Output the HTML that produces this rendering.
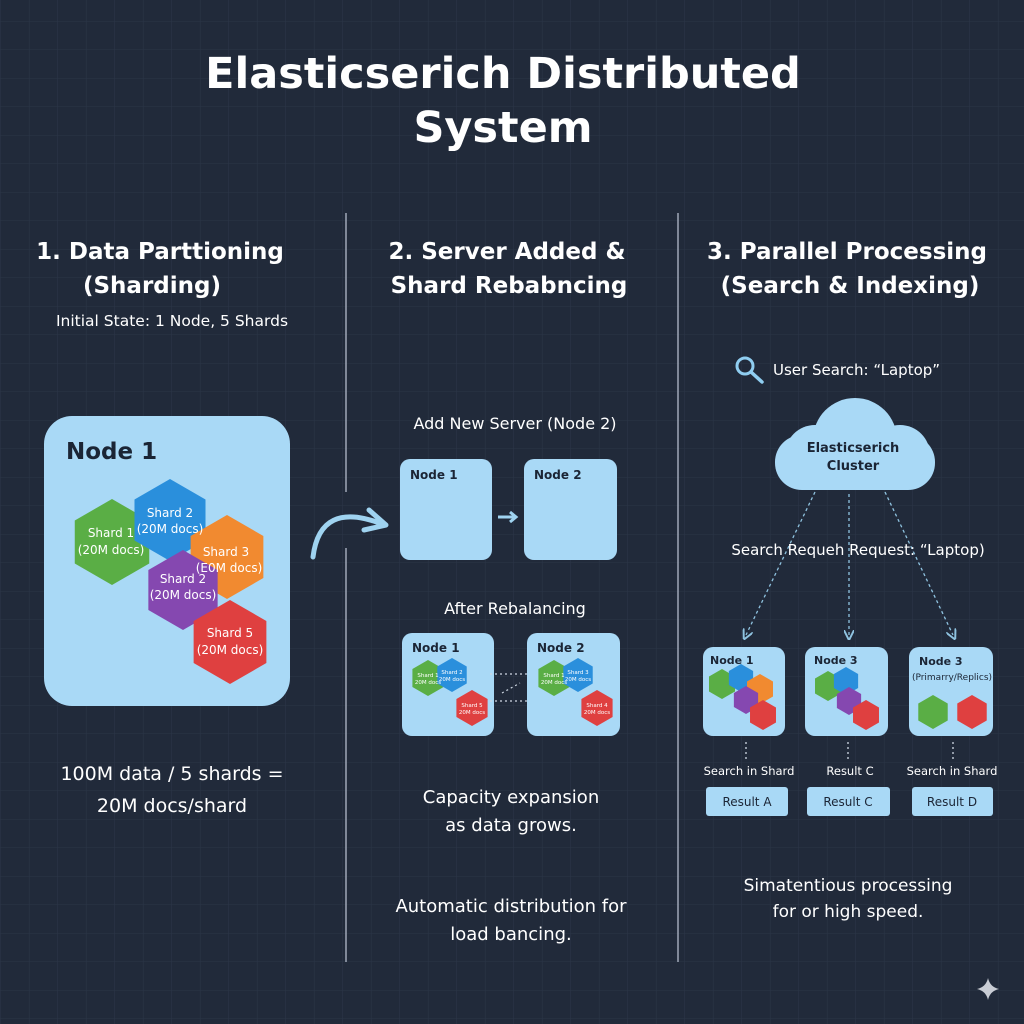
<!DOCTYPE html>
<html><head><meta charset="utf-8"><style>
html,body{margin:0;padding:0;background:#212a3a;}
svg{display:block}
text{font-family:"DejaVu Sans","Liberation Sans",sans-serif;}
</style></head><body>
<svg width="1024" height="1024" viewBox="0 0 1024 1024" xmlns="http://www.w3.org/2000/svg">
<defs>
<pattern id="g" width="28.5" height="28.5" patternUnits="userSpaceOnUse" x="1" y="-7">
<path d="M28.5 0V28.5M0 28.5H28.5" stroke="#2b3547" stroke-width="1.1" fill="none"/>
</pattern>
<polygon id="hx" points="0,-1 0.866,-0.5 0.866,0.5 0,1 -0.866,0.5 -0.866,-0.5"/>
<marker id="ah" markerWidth="8" markerHeight="8" refX="4" refY="4" orient="auto"><path d="M0,0 L8,4 L0,8" fill="none" stroke="#8fc3e0" stroke-width="1.5"/></marker>
</defs>
<rect width="1024" height="1024" fill="#212a3a"/>
<rect width="1024" height="1024" fill="url(#g)"/>

<text x="503" y="88" text-anchor="middle" fill="#fff" font-size="43" font-weight="bold">Elasticserich Distributed</text>
<text x="503" y="142" text-anchor="middle" fill="#fff" font-size="43" font-weight="bold">System</text>

<line x1="346" y1="213" x2="346" y2="492" stroke="#a0a8b8" stroke-width="1.5"/>
<line x1="346" y1="548" x2="346" y2="962" stroke="#a0a8b8" stroke-width="1.5"/>
<line x1="678" y1="213" x2="678" y2="962" stroke="#a0a8b8" stroke-width="1.5"/>

<g fill="#fff" font-size="23" font-weight="bold" text-anchor="middle">
<text x="160" y="259">1. Data Parttioning</text>
<text x="152" y="293">(Sharding)</text>
<text x="507" y="259">2. Server Added &amp;</text>
<text x="509" y="293">Shard Rebabncing</text>
<text x="847" y="259">3. Parallel Processing</text>
<text x="850" y="293">(Search &amp; Indexing)</text>
</g>
<text x="172" y="326" text-anchor="middle" fill="#fff" font-size="15.5">Initial State: 1 Node, 5 Shards</text>

<rect x="44" y="416" width="246" height="290" rx="28" fill="#a9d9f6"/>
<text x="66" y="459" fill="#1b2535" font-size="23" font-weight="bold">Node 1</text>
<use href="#hx" transform="translate(112,542) scale(43)" fill="#5aae45"/>
<use href="#hx" transform="translate(170,520) scale(41)" fill="#2a8fdc"/>
<use href="#hx" transform="translate(227,557) scale(42)" fill="#f18a30"/>
<use href="#hx" transform="translate(183,590) scale(40)" fill="#8548b0"/>
<use href="#hx" transform="translate(230,642) scale(42)" fill="#df4040"/>
<g fill="#fff" font-size="12" text-anchor="middle">
<text x="111" y="537">Shard 1</text><text x="111" y="554">(20M docs)</text>
<text x="170" y="517">Shard 2</text><text x="170" y="533">(20M docs)</text>
<text x="226" y="556">Shard 3</text><text x="229" y="572">(E0M docs)</text>
<text x="183" y="583">Shard 2</text><text x="183" y="599">(20M docs)</text>
<text x="230" y="637">Shard 5</text><text x="230" y="654">(20M docs)</text>
</g>
<text x="172" y="780" text-anchor="middle" fill="#fff" font-size="19">100M data / 5 shards =</text>
<text x="172" y="812" text-anchor="middle" fill="#fff" font-size="19">20M docs/shard</text>

<path d="M313,557 Q320,500 382,524" fill="none" stroke="#9fd3f0" stroke-width="5" stroke-linecap="round"/>
<path d="M369,510 L386,525 L364,530" fill="none" stroke="#9fd3f0" stroke-width="5" stroke-linecap="round" stroke-linejoin="round"/>

<text x="515" y="429" text-anchor="middle" fill="#fff" font-size="16">Add New Server (Node 2)</text>
<rect x="400" y="459" width="92" height="101" rx="10" fill="#a9d9f6"/>
<rect x="524" y="459" width="93" height="101" rx="10" fill="#a9d9f6"/>
<text x="410" y="479" fill="#1b2535" font-size="12" font-weight="bold">Node 1</text>
<text x="534" y="479" fill="#1b2535" font-size="12" font-weight="bold">Node 2</text>
<path d="M498,517 H515 M510,512 L516,517 L510,522" stroke="#9fd3f0" stroke-width="3" fill="none"/>
<text x="515" y="614" text-anchor="middle" fill="#fff" font-size="16">After Rebalancing</text>
<rect x="402" y="633" width="92" height="103" rx="10" fill="#a9d9f6"/>
<rect x="527" y="633" width="93" height="103" rx="10" fill="#a9d9f6"/>
<text x="412" y="652" fill="#1b2535" font-size="12" font-weight="bold">Node 1</text>
<text x="537" y="652" fill="#1b2535" font-size="12" font-weight="bold">Node 2</text>
<use href="#hx" transform="translate(428,678) scale(18)" fill="#5aae45"/>
<use href="#hx" transform="translate(452,675) scale(17)" fill="#2a8fdc"/>
<use href="#hx" transform="translate(472,708) scale(18)" fill="#df4040"/>
<use href="#hx" transform="translate(554,678) scale(18)" fill="#5aae45"/>
<use href="#hx" transform="translate(578,675) scale(17)" fill="#2a8fdc"/>
<use href="#hx" transform="translate(597,708) scale(18)" fill="#df4040"/>
<g fill="#fff" font-size="5.5" text-anchor="middle">
<text x="428" y="677">Shard 1</text><text x="428" y="684">20M docs</text>
<text x="452" y="674">Shard 2</text><text x="452" y="681">20M docs</text>
<text x="472" y="707">Shard 5</text><text x="472" y="714">20M docs</text>
<text x="554" y="677">Shard 1</text><text x="554" y="684">20M docs</text>
<text x="578" y="674">Shard 3</text><text x="578" y="681">20M docs</text>
<text x="597" y="707">Shard 4</text><text x="597" y="714">20M docs</text>
</g>
<path d="M490,674 H528 M490,701 H528" stroke="#cfd8e3" stroke-width="1.2" stroke-dasharray="2,3"/>
<path d="M502,693 L520,683" stroke="#cfd8e3" stroke-width="1.2" stroke-dasharray="2,3"/>
<text x="511" y="803" text-anchor="middle" fill="#fff" font-size="18">Capacity expansion</text>
<text x="511" y="831" text-anchor="middle" fill="#fff" font-size="18">as data grows.</text>
<text x="511" y="912" text-anchor="middle" fill="#fff" font-size="18">Automatic distribution for</text>
<text x="511" y="940" text-anchor="middle" fill="#fff" font-size="18">load bancing.</text>

<circle cx="745" cy="366" r="8" fill="none" stroke="#8fcdf0" stroke-width="3"/>
<line x1="751" y1="372" x2="762" y2="382" stroke="#8fcdf0" stroke-width="3.5" stroke-linecap="round"/>
<text x="773" y="375" fill="#fff" font-size="15">User Search: “Laptop”</text>
<g fill="#a9d9f6">
<rect x="775" y="435" width="160" height="55" rx="27"/>
<circle cx="855" cy="440" r="42"/>
<circle cx="815" cy="455" r="30"/>
<circle cx="900" cy="455" r="30"/>
</g>
<text x="853" y="452" text-anchor="middle" fill="#1b2535" font-size="13" font-weight="bold">Elasticserich</text>
<text x="853" y="470" text-anchor="middle" fill="#1b2535" font-size="13" font-weight="bold">Cluster</text>
<g stroke="#8fc3e0" stroke-width="1.3" stroke-dasharray="3,3" fill="none" marker-end="url(#ah)">
<path d="M815,492 L746,635"/>
<path d="M849,494 L849,635"/>
<path d="M885,492 L953,635"/>
</g>
<text x="858" y="555" text-anchor="middle" fill="#fff" font-size="15">Search Requeh Request: “Laptop)</text>

<rect x="703" y="647" width="82" height="89" rx="10" fill="#a9d9f6"/>
<rect x="805" y="647" width="83" height="89" rx="10" fill="#a9d9f6"/>
<rect x="909" y="647" width="84" height="89" rx="10" fill="#a9d9f6"/>
<text x="710" y="664" fill="#1b2535" font-size="11" font-weight="bold">Node 1</text>
<text x="814" y="664" fill="#1b2535" font-size="11" font-weight="bold">Node 3</text>
<text x="919" y="665" fill="#1b2535" font-size="11" font-weight="bold">Node 3</text>
<text x="952" y="680" text-anchor="middle" fill="#1b2535" font-size="9">(Primarry/Replics)</text>
<use href="#hx" transform="translate(722,684) scale(15)" fill="#5aae45"/>
<use href="#hx" transform="translate(741,678) scale(14)" fill="#2a8fdc"/>
<use href="#hx" transform="translate(760,689) scale(15)" fill="#f18a30"/>
<use href="#hx" transform="translate(746,700) scale(14)" fill="#8548b0"/>
<use href="#hx" transform="translate(763,715) scale(15)" fill="#df4040"/>
<use href="#hx" transform="translate(828,686) scale(15)" fill="#5aae45"/>
<use href="#hx" transform="translate(846,681) scale(14)" fill="#2a8fdc"/>
<use href="#hx" transform="translate(849,701) scale(14)" fill="#8548b0"/>
<use href="#hx" transform="translate(866,715) scale(15)" fill="#df4040"/>
<use href="#hx" transform="translate(933,712) scale(17)" fill="#5aae45"/>
<use href="#hx" transform="translate(972,712) scale(17)" fill="#df4040"/>
<g stroke="#cfd8e3" stroke-width="1.3" stroke-dasharray="2,3">
<line x1="746" y1="742" x2="746" y2="762"/><line x1="848" y1="742" x2="848" y2="762"/><line x1="953" y1="742" x2="953" y2="762"/>
</g>
<g fill="#fff" font-size="11.5" text-anchor="middle">
<text x="749" y="775">Search in Shard</text>
<text x="850" y="775">Result C</text>
<text x="952" y="775">Search in Shard</text>
</g>
<rect x="706" y="787" width="82" height="29" rx="3" fill="#a9d9f6"/>
<rect x="807" y="787" width="83" height="29" rx="3" fill="#a9d9f6"/>
<rect x="912" y="787" width="81" height="29" rx="3" fill="#a9d9f6"/>
<g fill="#1b2535" font-size="12" text-anchor="middle">
<text x="747" y="806">Result A</text><text x="848" y="806">Result C</text><text x="952" y="806">Result D</text>
</g>
<text x="848" y="891" text-anchor="middle" fill="#fff" font-size="17">Simatentious processing</text>
<text x="848" y="917" text-anchor="middle" fill="#fff" font-size="17">for or high speed.</text>

<path d="M988,978 Q990,987 999,989 Q990,991 988,1000 Q986,991 977,989 Q986,987 988,978Z" fill="#c8ccd4"/>
</svg>
</body></html>
